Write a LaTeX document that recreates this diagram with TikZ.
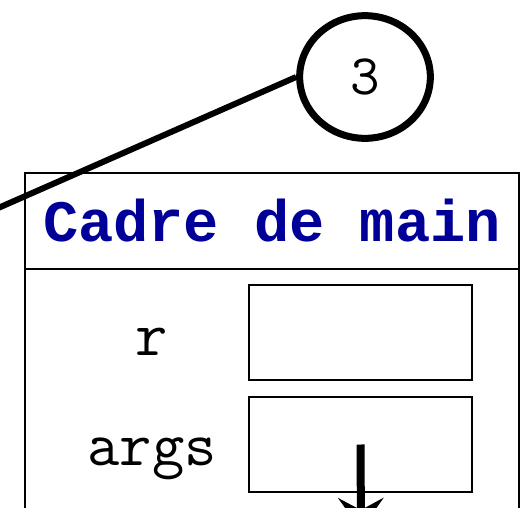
\documentclass[tikz,border=0pt]{standalone}
\usepackage{fontspec}
\newfontfamily\titlefont{Liberation Mono}
\usetikzlibrary{arrows.meta, shapes.geometric}
\definecolor{titleblue}{HTML}{000099}

\begin{document}
\begin{tikzpicture}[
    x=0.75pt, y=-0.75pt,
    >={Stealth[length=24pt, width=34pt, inset=9pt]},
    frameline/.style={draw, line width=1.5pt},
    slot/.style={draw, line width=1.5pt, minimum width=167pt,
      minimum height=71pt, inner sep=0pt},
    varname/.style={font=\ttfamily\fontsize{47}{47}\selectfont, anchor=base},
    stepmark/.style={ellipse, draw, line width=5.25pt, minimum width=98pt,
      minimum height=92pt, inner sep=0pt, font=\ttfamily\fontsize{43}{43}\selectfont},
  ]

  % Page size and clipping
  \useasboundingbox (0,0) rectangle (521,507);
  \clip (0,0) rectangle (521,507);

  % === Frame of main ===
  \draw[frameline] (25,600) -- (25,173) -- (519,173) -- (519,600);
  \draw[frameline] (25,269) -- (519,269);
  \node[font=\titlefont\bfseries\fontsize{44}{44}\selectfont, text=titleblue]
    (title) at (272,221) {Cadre de main};

  % --- Variables ---
  \node[slot] (rval) at (360.5,332.5) {};
  \node[slot] (argsval) at (360.5,444.5) {};
  \node[varname] (rname) at (152,355) {r};
  \node[varname] (argsname) at (152,465) {args};

  % args points further down
  \coordinate (argstarget) at (361,530);
  \draw[->, line width=6pt] (argsval.center) -- (argstarget);

  % === Step marker ===
  \node[stepmark] (mark) at (365,77) {3};
  \coordinate (marktail) at (-20,216);
  \draw[line width=4.5pt] (marktail) -- (mark.west);

\end{tikzpicture}
\end{document}
